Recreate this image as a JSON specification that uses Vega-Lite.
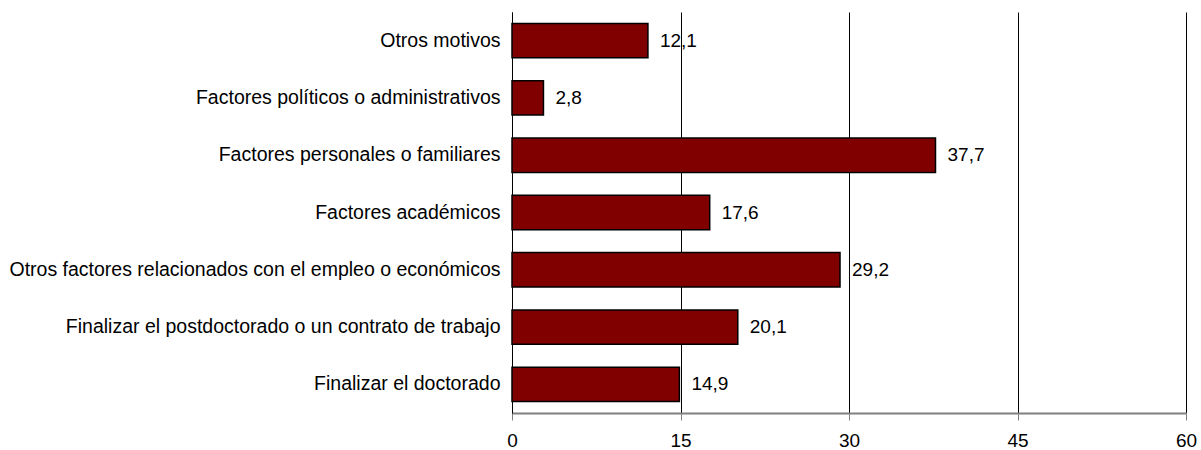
{
  "$schema": "https://vega.github.io/schema/vega-lite/v6.json",
  "autosize": {"type": "none"},
  "padding": {"left": 512, "top": 12, "right": 15, "bottom": 37},
  "width": 674,
  "height": 401,
  "background": "white",
  "config": {"view": {"stroke": null}, "font": "Liberation Sans"},
  "data": {"values": [
    {"motivo": "Otros motivos", "valor": 12.1, "etiqueta": "12,1"},
    {"motivo": "Factores políticos o administrativos", "valor": 2.8, "etiqueta": "2,8"},
    {"motivo": "Factores personales o familiares", "valor": 37.7, "etiqueta": "37,7"},
    {"motivo": "Factores académicos", "valor": 17.6, "etiqueta": "17,6"},
    {"motivo": "Otros factores relacionados con el empleo o económicos", "valor": 29.2, "etiqueta": "29,2"},
    {"motivo": "Finalizar el postdoctorado o un contrato de trabajo", "valor": 20.1, "etiqueta": "20,1"},
    {"motivo": "Finalizar el doctorado", "valor": 14.9, "etiqueta": "14,9"}
  ]},
  "encoding": {
    "y": {"field": "motivo", "type": "nominal", "sort": null,
      "scale": {"paddingInner": 0.4, "paddingOuter": 0.2},
      "axis": {"title": null, "ticks": false, "labelFontSize": 19.5, "labelColor": "black", "labelPadding": 12, "labelLimit": 600, "domainColor": "#000000", "domainWidth": 1, "grid": false}},
    "x": {"field": "valor", "type": "quantitative",
      "scale": {"domain": [0, 60], "nice": false},
      "axis": {"title": null, "values": [0, 15, 30, 45, 60], "labelFontSize": 19, "labelColor": "black", "labelPadding": 11, "tickSize": 7, "tickColor": "#808080", "domainColor": "#808080", "domainWidth": 2, "grid": true, "gridColor": "#000000", "gridWidth": 1, "labelFlush": false}}
  },
  "layer": [
    {"mark": {"type": "bar", "color": "#800000", "stroke": "#000000", "strokeWidth": 1.5}},
    {"mark": {"type": "text", "align": "left", "baseline": "middle", "dx": 12, "fontSize": 19, "color": "black"},
     "encoding": {"text": {"field": "etiqueta"}}}
  ]
}
